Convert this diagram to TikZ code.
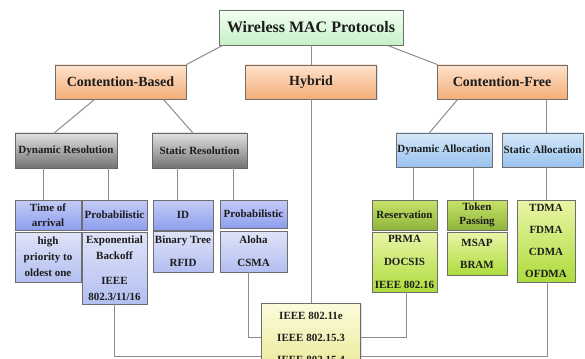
\documentclass[tikz,border=0pt]{standalone}
\usepackage{fontspec}
\setmainfont{Liberation Serif}
\usepackage{xcolor}
\definecolor{edge}{HTML}{6E6E6E}
\definecolor{wire}{HTML}{8C8C8C}
\definecolor{ink}{HTML}{1C1C1C}
\definecolor{rootlo}{HTML}{C6F0C8}
\definecolor{kindhi}{HTML}{FDE2CB}
\definecolor{kindlo}{HTML}{F5AE78}
\definecolor{allochi}{HTML}{D6E8FA}
\definecolor{alloclo}{HTML}{98C2EE}
\definecolor{bluehi}{HTML}{C4CCF6}
\definecolor{bluelo}{HTML}{8E9EEE}
\definecolor{palebhi}{HTML}{E0E4F8}
\definecolor{paleblo}{HTML}{B2BEF0}
\definecolor{olivehi}{HTML}{C8E26A}
\definecolor{olivelo}{HTML}{8DB63A}
\definecolor{limehi}{HTML}{EAF5A8}
\definecolor{limelo}{HTML}{ADDC3C}
\definecolor{creamhi}{HTML}{FCFCDC}
\definecolor{creamlo}{HTML}{EAE896}
\usepackage{tikz}
\usetikzlibrary{shadows}
\tikzset{
  box/.style    ={draw=edge,line width=0.8pt,inner sep=1pt,align=center,text=ink,
                  drop shadow={shadow xshift=1.2pt,shadow yshift=-1.2pt,opacity=0.25}},
  topbox/.style ={box,top color=green!5,bottom color=rootlo,
                  font=\fontsize{16}{18}\selectfont\bfseries},
  kind/.style   ={box,top color=kindhi,bottom color=kindlo,
                  font=\fontsize{14}{16}\selectfont\bfseries},
  resol/.style  ={box,draw=black!60,top color=black!12,bottom color=black!55,
                  font=\fontsize{11}{13}\selectfont\bfseries},
  alloc/.style  ={box,top color=allochi,bottom color=alloclo,
                  font=\fontsize{11}{13}\selectfont\bfseries},
  blhead/.style ={box,top color=bluehi,bottom color=bluelo,
                  font=\fontsize{11}{15}\selectfont\bfseries},
  bllist/.style ={box,top color=palebhi,bottom color=paleblo,
                  font=\fontsize{11}{16}\selectfont\bfseries},
  grhead/.style ={box,top color=olivehi,bottom color=olivelo,
                  font=\fontsize{11}{14}\selectfont\bfseries},
  grlist/.style ={box,top color=limehi,bottom color=limelo,
                  font=\fontsize{11}{13}\selectfont\bfseries},
  hyblist/.style={box,top color=creamhi,bottom color=creamlo,
                  font=\fontsize{11}{13}\selectfont\bfseries},
  link/.style   ={draw=wire,line width=1pt},
}

\begin{document}
\begin{tikzpicture}[x=1pt,y=-1pt]
\useasboundingbox (0,0) rectangle (585,358);

%================= root and the three kinds
\node[topbox,minimum width=184,minimum height=35] (root) at (311,27.5) {Wireless MAC Protocols};
\node[kind,minimum width=131,minimum height=34] (cb)  at (120.5,82) {Contention-Based};
\node[kind,minimum width=131,minimum height=34] (hyb) at (311,82)   {Hybrid};
\node[kind,minimum width=130,minimum height=34] (cf)  at (502,82)   {Contention-Free};

%================= contention-based branch
\node[resol,minimum width=102,minimum height=35] (dres) at (66,150.5)    {Dynamic Resolution};
\node[resol,minimum width=95,minimum height=35]  (sres) at (199.5,150.5) {Static Resolution};

\node[blhead,minimum width=66,minimum height=30] (toa) at (48,215)    {Time of\\arrival};
\node[blhead,minimum width=65,minimum height=30] (pb1) at (114.5,215) {Probabilistic};
\node[blhead,minimum width=60,minimum height=30] (idn) at (183,215)   {ID};
\node[blhead,minimum width=67,minimum height=28] (pb2) at (253.5,214) {Probabilistic};

\node[bllist,minimum width=66,minimum height=50] (hpo) at (48,257)      {high\\priority to\\oldest one};
\node[bllist,minimum width=65,minimum height=72] (ebo) at (114.5,268)   {Exponential\\Backoff\\[9pt]IEEE\\802.3/11/16};
\node[bllist,minimum width=60,minimum height=41] (btr) at (183,251.5)   {Binary Tree\\[7pt]RFID};
\node[bllist,minimum width=67,minimum height=41] (alo) at (253.5,251.5) {Aloha\\[7pt]CSMA};

%================= contention-free branch
\node[alloc,minimum width=96,minimum height=34] (dalc) at (444,150)   {Dynamic Allocation};
\node[alloc,minimum width=81,minimum height=34] (salc) at (542.5,150) {Static Allocation};

\node[grhead,minimum width=65,minimum height=30] (res) at (404.5,215) {Reservation};
\node[grhead,minimum width=60,minimum height=30] (tok) at (477,215)   {Token\\Passing};
\node[grlist,minimum width=65,minimum height=60] (pdi) at (404.5,262) {PRMA\\[10pt]DOCSIS\\[10pt]IEEE 802.16};
\node[grlist,minimum width=60,minimum height=43] (msb) at (477,253.5) {MSAP\\[9pt]BRAM};
\node[grlist,minimum width=58,minimum height=82] (tdm) at (546,241)   {TDMA\\[9pt]FDMA\\[9pt]CDMA\\[9pt]OFDMA};

%================= hybrid protocols
\node[hyblist,minimum width=99,minimum height=69] (ieee) at (311,337.5)
  {IEEE 802.11e\\[9pt]IEEE 802.15.3\\[9pt]IEEE 802.15.4};

%================= connectors
\begin{scope}[link]
\draw ([xshift=4]root.south west) -- (cb.north east);
\draw (root.south) -- (hyb.north);
\draw ([xshift=-16]root.south east) -- ([xshift=1]cf.north west);
\draw ([xshift=40]cb.south west) -- ([xshift=40]dres.north west);
\draw ([xshift=-23]cb.south east) -- ([xshift=41]sres.north west);
\draw ([xshift=21]cf.south west) -- ([xshift=34]dalc.north west);
\draw ([xshift=3.5]salc.north) -- ([xshift=3.5]salc.north |- cf.south);
\foreach \nd/\up/\dx in {toa/dres/-5, pb1/dres/-6.5, idn/sres/-6, pb2/sres/-20,
                         res/dalc/8.5, tok/dalc/-4, tdm/salc/0}
  \draw ([xshift=\dx]\nd.north) -- ([xshift=\dx]\nd.north |- \up.south);
\draw (hyb.south) -- (ieee.north);
\draw (ebo.south) |- ([yshift=-18.5]ieee.west);
\draw ([xshift=-5.5]alo.south) |- (ieee.west);
\draw ([xshift=1.5]pdi.south) |- (ieee.east);
\draw ([xshift=1]tdm.south) |- ([yshift=-18.5]ieee.east);
\end{scope}
\end{tikzpicture}
\end{document}
